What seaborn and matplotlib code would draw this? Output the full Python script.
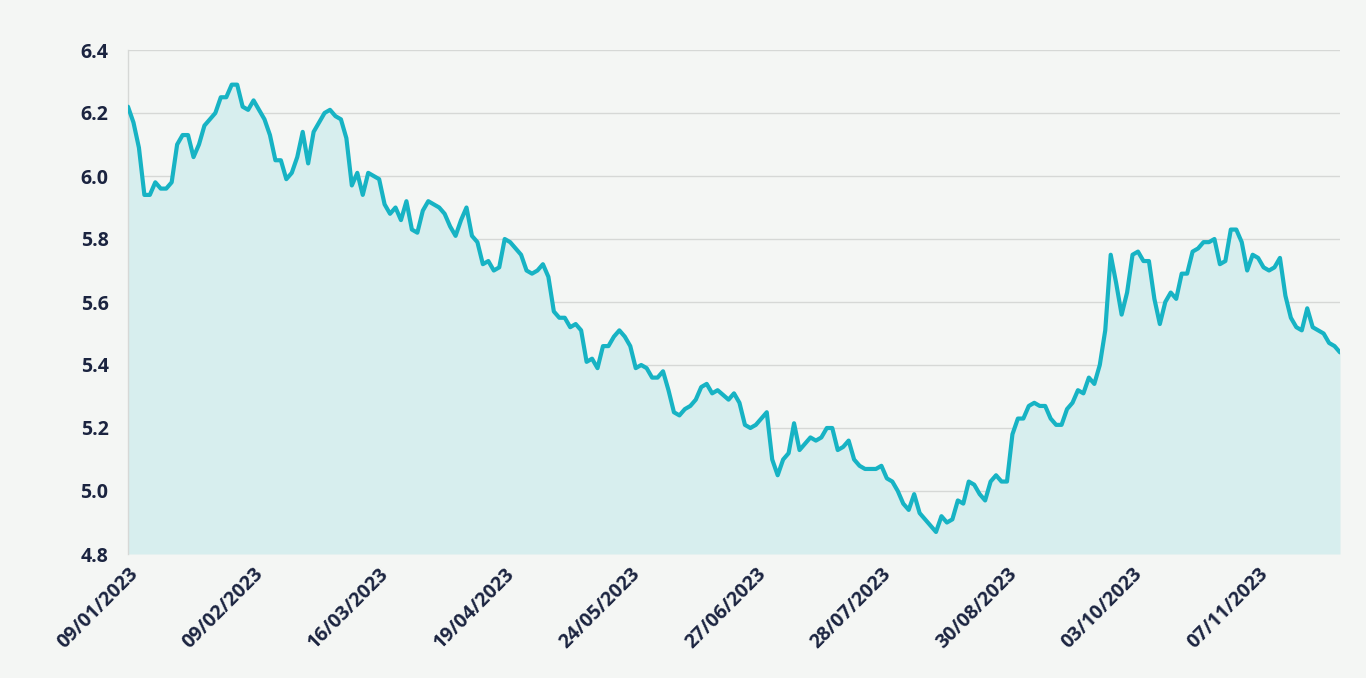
import numpy as np
import pandas as pd
import matplotlib
matplotlib.use("Agg")
import matplotlib.pyplot as plt
import seaborn as sns

# ---- data ----
values = [
    6.22, 6.17, 6.09, 5.94, 5.94, 5.98, 5.96, 5.96, 5.98, 6.10,
    6.13, 6.13, 6.06, 6.10, 6.16, 6.18, 6.20, 6.25, 6.25, 6.29,
    6.29, 6.22, 6.21, 6.24, 6.21, 6.18, 6.13, 6.05, 6.05, 5.99,
    6.01, 6.06, 6.14, 6.04, 6.14, 6.17, 6.20, 6.21, 6.19, 6.18,
    6.12, 5.97, 6.01, 5.94, 6.01, 6.00, 5.99, 5.91, 5.88, 5.90,
    5.86, 5.92, 5.83, 5.82, 5.89, 5.92, 5.91, 5.90, 5.88, 5.84,
    5.81, 5.86, 5.90, 5.81, 5.79, 5.72, 5.73, 5.70, 5.71, 5.80,
    5.79, 5.77, 5.75, 5.70, 5.69, 5.70, 5.72, 5.68, 5.57, 5.55,
    5.55, 5.52, 5.53, 5.51, 5.41, 5.42, 5.39, 5.46, 5.46, 5.49,
    5.51, 5.49, 5.46, 5.39, 5.40, 5.39, 5.36, 5.36, 5.38, 5.32,
    5.25, 5.24, 5.26, 5.27, 5.29, 5.33, 5.34, 5.31, 5.32, 5.305,
    5.29, 5.31, 5.28, 5.21, 5.20, 5.21, 5.23, 5.25, 5.10, 5.05,
    5.10, 5.12, 5.215, 5.13, 5.15, 5.17, 5.16, 5.17, 5.20, 5.20,
    5.13, 5.14, 5.16, 5.10, 5.08, 5.07, 5.07, 5.07, 5.08, 5.04,
    5.03, 5.00, 4.96, 4.94, 4.99, 4.93, 4.91, 4.89, 4.87, 4.92,
    4.90, 4.91, 4.97, 4.96, 5.03, 5.02, 4.99, 4.97, 5.03, 5.05,
    5.03, 5.03, 5.18, 5.23, 5.23, 5.27, 5.28, 5.27, 5.27, 5.23,
    5.21, 5.21, 5.26, 5.28, 5.32, 5.31, 5.36, 5.34, 5.40, 5.51,
    5.75, 5.66, 5.56, 5.63, 5.75, 5.76, 5.73, 5.73, 5.61, 5.53,
    5.60, 5.63, 5.61, 5.69, 5.69, 5.76, 5.77, 5.79, 5.79, 5.80,
    5.72, 5.73, 5.83, 5.83, 5.79, 5.70, 5.75, 5.74, 5.71, 5.70,
    5.71, 5.74, 5.62, 5.55, 5.52, 5.51, 5.58, 5.52, 5.51, 5.50,
    5.47, 5.46, 5.44,
]
tick_labels = ["09/01/2023", "09/02/2023", "16/03/2023", "19/04/2023",
               "24/05/2023", "27/06/2023", "28/07/2023", "30/08/2023",
               "03/10/2023", "07/11/2023"]
y_ticks = [4.8, 5.0, 5.2, 5.4, 5.6, 5.8, 6.0, 6.2, 6.4]

df = pd.DataFrame({"i": np.arange(len(values)), "v": values})

# ---- style ----
BG = "#f4f6f4"
LINE = "#17b3c4"
FILL = "#d7eeee"
TXT = "#1b2440"
GRID = "#d6d8d6"

sns.set_theme(style="white")
plt.rcParams["font.family"] = ["Open Sans", "DejaVu Sans"]

fig = plt.figure(figsize=(13.66, 6.78), dpi=100, facecolor=BG)
ax = fig.add_axes([128 / 1366, 1 - 554 / 678, (1340 - 128) / 1366, (554 - 50) / 678])
ax.set_facecolor(BG)

ax.fill_between(df["i"], df["v"], 4.8, color=FILL, linewidth=0, zorder=1)
sns.lineplot(data=df, x="i", y="v", ax=ax, color=LINE, linewidth=3.0, zorder=3)

ax.set_xlim(0, len(values) - 1)
ax.set_ylim(4.8, 6.4)
ax.set_yticks(y_ticks)
ax.set_yticklabels([f"{t:.1f}" for t in y_ticks])
step = 23
ax.set_xticks(np.arange(len(tick_labels)) * step)
ax.set_xticklabels(tick_labels, rotation=45, ha="right", rotation_mode="anchor")

ax.grid(axis="y", color=GRID, linewidth=1.0, zorder=0)
ax.grid(axis="x", visible=False)
for s in ["top", "right", "bottom"]:
    ax.spines[s].set_visible(False)
ax.spines["left"].set_color(GRID)
ax.spines["left"].set_linewidth(1.0)

ax.tick_params(axis="y", length=12, width=1.0, color=GRID, pad=2,
               labelsize=14, labelcolor=TXT)
ax.tick_params(axis="x", length=0, pad=7, labelsize=14, labelcolor=TXT)
for lab in ax.get_xticklabels() + ax.get_yticklabels():
    lab.set_fontweight("bold")

ax.set_xlabel("")
ax.set_ylabel("")

fig.savefig("out.png", dpi=100, facecolor=BG)
